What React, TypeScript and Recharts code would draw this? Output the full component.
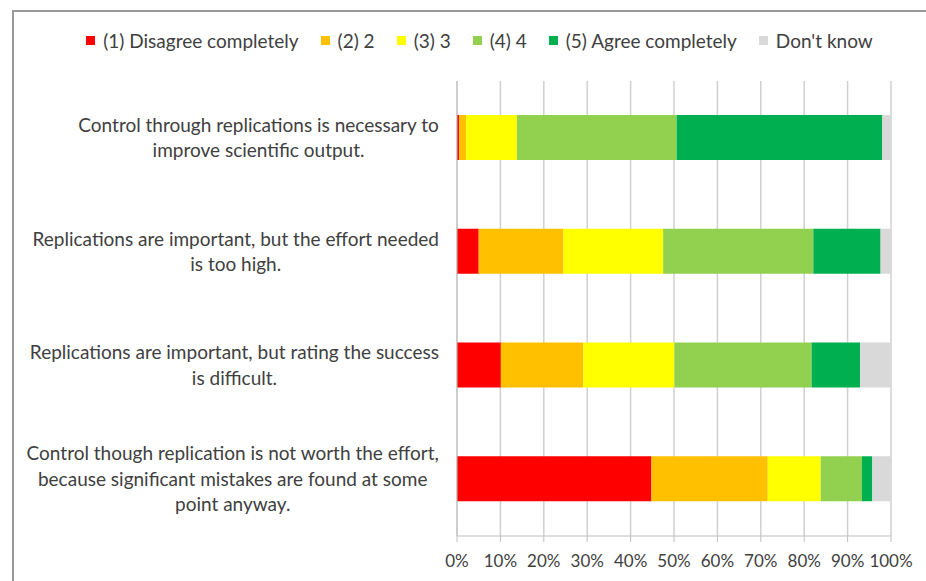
import React from 'react';
import { BarChart, Bar, XAxis, YAxis, CartesianGrid, Legend } from 'recharts';

// values (percent of answers)
const categories = [
  'Control through replications is necessary to improve scientific output.',
  'Replications are important, but the effort needed is too high.',
  'Replications are important, but rating the success is difficult.',
  'Control though replication is not worth the effort, because significant mistakes are found at some point anyway.',
];
const categoryLines = [
  ['Control through replications is necessary to', 'improve scientific output.'],
  ['Replications are important, but the effort needed', 'is too high.'],
  ['Replications are important, but rating the success', 'is difficult.'],
  ['Control though replication is not worth the effort,', 'because significant mistakes are found at some', 'point anyway.'],
];
const disagree = [0.5, 5.0, 10.1, 44.8];
const rating2 = [1.6, 19.5, 19.0, 26.8];
const rating3 = [11.7, 23.0, 21.0, 12.2];
const rating4 = [36.8, 34.6, 31.6, 9.5];
const agree = [47.4, 15.5, 11.2, 2.4];
const dontKnow = [2.0, 2.4, 7.1, 4.3];
const xTicks = [0, 10, 20, 30, 40, 50, 60, 70, 80, 90, 100];

const seriesNames = ['(1) Disagree completely', '(2) 2', '(3) 3', '(4) 4', '(5) Agree completely', "Don't know"];
const seriesKeys = ['d1', 'd2', 'd3', 'd4', 'd5', 'dk'];
const seriesColors = ['#FF0000', '#FFC000', '#FFFF00', '#92D050', '#00B050', '#D9D9D9'];

const data = categories.map((name, i) => ({
  name,
  d1: disagree[i],
  d2: rating2[i],
  d3: rating3[i],
  d4: rating4[i],
  d5: agree[i],
  dk: dontKnow[i],
}));

const FONT = 'Lato, "Open Sans", sans-serif';
const FS = 19;
const TICK_FS = 17;
const TEXT = '#404040';

let ctx: CanvasRenderingContext2D | null = null;
const measure = (s: string) => {
  if (!ctx) ctx = document.createElement('canvas').getContext('2d');
  if (!ctx) return s.length * FS * 0.48;
  ctx.font = `${FS}px Lato`;
  return ctx.measureText(s).width;
};

// multi-line category label, lines centred, block right-aligned to the axis
const CategoryTick = (props: any) => {
  const { x, y, payload } = props;
  const idx = categories.indexOf(payload.value);
  const lines = categoryLines[idx] || [payload.value];
  const maxW = Math.max(...lines.map(measure));
  const cx = x - maxW / 2;
  const lh = 25.5;
  const y0 = y - ((lines.length - 1) * lh) / 2;
  return (
    <text x={cx} y={y0} textAnchor="middle" fill={TEXT} fontSize={FS} fontFamily={FONT}>
      {lines.map((l: string, i: number) => (
        <tspan key={i} x={cx} y={y0 + i * lh} dy="0.35em">
          {l}
        </tspan>
      ))}
    </text>
  );
};

const LegendContent = () => (
  <div
    style={{
      display: 'flex',
      justifyContent: 'center',
      alignItems: 'center',
      height: 24,
      paddingLeft: 33,
      fontFamily: FONT,
      fontSize: FS,
      color: TEXT,
    }}
  >
    {seriesNames.map((n, i) => (
      <div key={n} style={{ display: 'flex', alignItems: 'center', marginRight: i < seriesNames.length - 1 ? 22 : 0 }}>
        <span style={{ width: 9, height: 9, background: seriesColors[i], marginRight: 8, display: 'inline-block' }} />
        <span>{n}</span>
      </div>
    ))}
  </div>
);

export default function App() {
  return (
    <div style={{ position: 'absolute', left: 0, top: 0, width: 926, height: 581, overflow: 'hidden', background: '#fff' }}>
      <div
        style={{
          position: 'absolute',
          left: 12,
          top: 10,
          width: 2000,
          height: 2000,
          border: '2px solid #999',
          boxSizing: 'border-box',
        }}
      />
      <div style={{ position: 'absolute', left: 0, top: 0 }}>
        <BarChart
          width={926}
          height={581}
          data={data}
          layout="vertical"
          margin={{ top: 57, right: 35, left: 0, bottom: 0 }}
        >
          <CartesianGrid horizontal={false} stroke="#d0d0d0" strokeWidth={1.5} />
          <Legend
            verticalAlign="top"
            content={<LegendContent />}
            wrapperStyle={{ top: 28, left: 0, width: 926 }}
          />
          <XAxis
            type="number"
            domain={[0, 100]}
            ticks={xTicks}
            tickFormatter={(v) => `${v}%`}
            height={45}
            stroke="#bfbfbf"
            tickSize={6}
            tickMargin={13}
            tick={{ fill: TEXT, fontSize: TICK_FS, fontFamily: FONT }}
            interval={0}
          />
          <YAxis
            yAxisId="bounds"
            type="number"
            domain={[0, 4]}
            ticks={[0, 1, 2, 3, 4]}
            width={0}
            axisLine={false}
            tickLine={{ stroke: '#bfbfbf', strokeWidth: 1.5 }}
            tickSize={6}
            tick={() => <g />}
          />
          <YAxis
            yAxisId="cat"
            type="category"
            dataKey="name"
            width={457}
            stroke="#bfbfbf"
            tickLine={false}
            tickSize={6}
            tickMargin={12}
            interval={0}
            tick={<CategoryTick />}
          />
          {seriesKeys.map((k, i) => (
            <Bar
              key={k}
              yAxisId="cat"
              dataKey={k}
              name={seriesNames[i]}
              stackId="a"
              fill={seriesColors[i]}
              barSize={45}
              isAnimationActive={false}
            />
          ))}
        </BarChart>
      </div>
    </div>
  );
}
